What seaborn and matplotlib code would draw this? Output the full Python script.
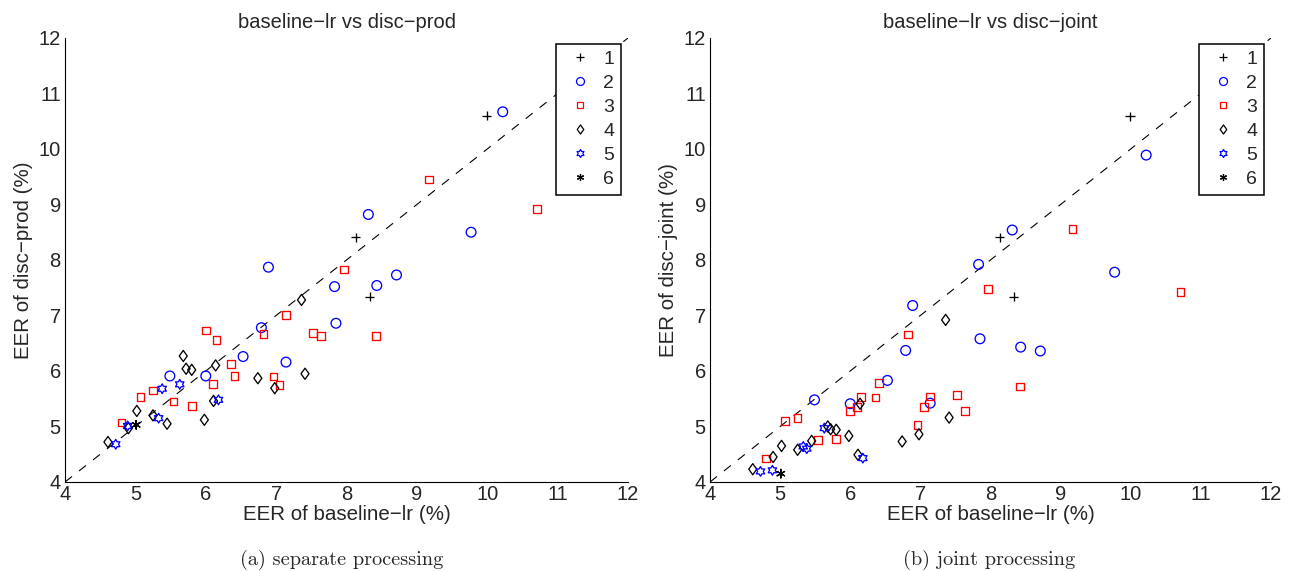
"""EER scatter: baseline-lr against disc-prod / disc-joint, per group."""
import matplotlib

matplotlib.use("Agg")
import matplotlib.pyplot as plt
import numpy as np
import pandas as pd
import seaborn as sns
from matplotlib.lines import Line2D
from matplotlib.path import Path

# per-group EERs (%); x is shared by both panels
g1_base = [9.99, 8.13, 8.33]
g1_prod = [10.60, 8.41, 7.34]
g1_joint = [10.59, 8.41, 7.34]

g2_base = [10.22, 8.31, 9.77, 6.89, 7.83, 8.43, 8.71, 7.85, 6.79, 6.53, 7.14, 5.49, 6.00]
g2_prod = [10.67, 8.82, 8.50, 7.87, 7.52, 7.54, 7.73, 6.86, 6.78, 6.26, 6.16, 5.91, 5.91]
g2_joint = [9.89, 8.54, 7.78, 7.18, 7.92, 6.43, 6.36, 6.58, 6.37, 5.83, 5.42, 5.48, 5.41]

g3_base = [9.17, 10.71, 7.96, 7.14, 6.00, 6.15, 6.82, 7.52, 7.64, 8.42,
           6.36, 6.41, 6.96, 7.05, 6.10, 5.07, 5.25, 5.54, 5.80, 4.80]
g3_prod = [9.45, 8.92, 7.83, 7.01, 6.73, 6.56, 6.67, 6.68, 6.63, 6.63,
           6.13, 5.91, 5.90, 5.75, 5.77, 5.53, 5.65, 5.45, 5.37, 5.07]
g3_joint = [8.56, 7.42, 7.48, 5.54, 5.28, 5.53, 6.66, 5.57, 5.28, 5.72,
            5.52, 5.78, 5.03, 5.35, 5.35, 5.10, 5.15, 4.76, 4.77, 4.42]

g4_base = [7.36, 5.68, 5.72, 5.80, 6.14, 6.74, 7.41, 6.98, 6.11, 5.98, 5.02, 5.25, 5.45, 4.90, 4.61]
g4_prod = [7.28, 6.27, 6.04, 6.02, 6.10, 5.87, 5.95, 5.69, 5.46, 5.12, 5.28, 5.20, 5.05, 4.97, 4.72]
g4_joint = [6.92, 5.00, 4.95, 4.94, 5.41, 4.73, 5.16, 4.86, 4.49, 4.83, 4.65, 4.58, 4.74, 4.45, 4.23]

g5_base = [5.38, 5.63, 6.18, 5.33, 4.89, 4.72]
g5_prod = [5.68, 5.76, 5.48, 5.15, 5.01, 4.68]
g5_joint = [4.60, 4.97, 4.43, 4.64, 4.21, 4.19]

g6_base = [5.01]
g6_prod = [5.03]
g6_joint = [4.15]

GROUPS = ["1", "2", "3", "4", "5", "6"]
AX_LIM = (4, 12)
TICKS = list(range(4, 13))


def closed(verts):
    verts = list(verts) + [verts[0]]
    codes = [Path.MOVETO] + [Path.LINETO] * (len(verts) - 2) + [Path.CLOSEPOLY]
    return Path(verts, codes)


def hexagram():
    ang = np.deg2rad(90 + 30 * np.arange(12))
    r = np.where(np.arange(12) % 2 == 0, 1.0, 1 / np.sqrt(3))
    return closed(list(zip(r * np.cos(ang), r * np.sin(ang))))


DIAMOND = closed([(0, 1), (0.72, 0), (0, -1), (-0.72, 0)])

# group -> (colour, marker, marker size in pt)
STYLE = {
    "1": ("black", "+", 6.6),
    "2": ("#0000ff", "o", 7.0),
    "3": ("#ff0000", "s", 5.5),
    "4": ("black", DIAMOND, 8.0),
    "5": ("#0000ff", hexagram(), 7.0),
    "6": ("black", (6, 2, 0), 6.2),
}


def build_frame():
    rows = []
    for g, b, p, j in [
        ("1", g1_base, g1_prod, g1_joint),
        ("2", g2_base, g2_prod, g2_joint),
        ("3", g3_base, g3_prod, g3_joint),
        ("4", g4_base, g4_prod, g4_joint),
        ("5", g5_base, g5_prod, g5_joint),
        ("6", g6_base, g6_prod, g6_joint),
    ]:
        rows.append(pd.DataFrame({"group": g, "baseline": b, "prod": p, "joint": j}))
    return pd.concat(rows, ignore_index=True)


def panel(ax, df, ycol, title, ylabel):
    ax.plot(AX_LIM, AX_LIM, color="black", lw=0.8, ls=(0, (8, 8)), zorder=1)
    for g in GROUPS:
        color, marker, ms = STYLE[g]
        sub = df[df["group"] == g]
        n_before = len(ax.collections)
        sns.scatterplot(data=sub, x="baseline", y=ycol, marker=marker, s=ms**2,
                        color=color, ax=ax, legend=False, zorder=3)
        for coll in ax.collections[n_before:]:
            coll.set_facecolor("none")
            coll.set_edgecolor(color)
            coll.set_linewidth(0.95)

    ax.set_xlim(*AX_LIM)
    ax.set_ylim(*AX_LIM)
    ax.set_xticks(TICKS)
    ax.set_yticks(TICKS)
    ax.tick_params(direction="in", length=4, width=0.8, labelsize=14.5,
                   top=False, right=False)
    ax.tick_params(axis="x", pad=2)
    ax.tick_params(axis="y", pad=3)
    sns.despine(ax=ax)
    for side in ("left", "bottom"):
        ax.spines[side].set_linewidth(0.8)
        ax.spines[side].set_color("black")
    ax.set_title(title, fontsize=14.5, pad=7)
    ax.set_xlabel("EER of baseline\u2212lr (%)", fontsize=14.8, labelpad=1)
    ax.set_ylabel(ylabel, fontsize=14.8, labelpad=4)

    handles = []
    for g in GROUPS:
        color, marker, ms = STYLE[g]
        handles.append(Line2D([], [], ls="none", marker=marker, markersize=ms * 0.82,
                              mfc="none", mec=color, mew=0.9))
    leg = ax.legend(handles, GROUPS, loc="upper right",
                    bbox_to_anchor=(0.988, 0.987), borderaxespad=0,
                    fontsize=14, handlelength=1.8, handletextpad=0.3,
                    borderpad=0.35, labelspacing=0.33, fancybox=False,
                    framealpha=1, edgecolor="black")
    leg.get_frame().set_linewidth(1.1)
    leg.set_zorder(5)


def main():
    sns.set_style("white")
    plt.rcParams["font.family"] = ["Liberation Sans", "DejaVu Sans"]
    df = build_frame()

    fig = plt.figure(figsize=(12.93, 5.71), dpi=100)
    ax_a = fig.add_axes([0.0503, 0.1559, 0.4354, 0.7776])
    ax_b = fig.add_axes([0.5491, 0.1559, 0.4339, 0.7776])

    panel(ax_a, df, "prod", "baseline\u2212lr vs disc\u2212prod", "EER of disc\u2212prod (%)")
    panel(ax_b, df, "joint", "baseline\u2212lr vs disc\u2212joint", "EER of disc\u2212joint (%)")

    fig.text(0.264, 0.02, "(a) separate processing", ha="center", va="center",
             family="cmr10", fontsize=14.6)
    fig.text(0.765, 0.02, "(b) joint processing", ha="center", va="center",
             family="cmr10", fontsize=14.6)

    fig.savefig("out.png", dpi=100)
    plt.close(fig)


if __name__ == "__main__":
    main()
